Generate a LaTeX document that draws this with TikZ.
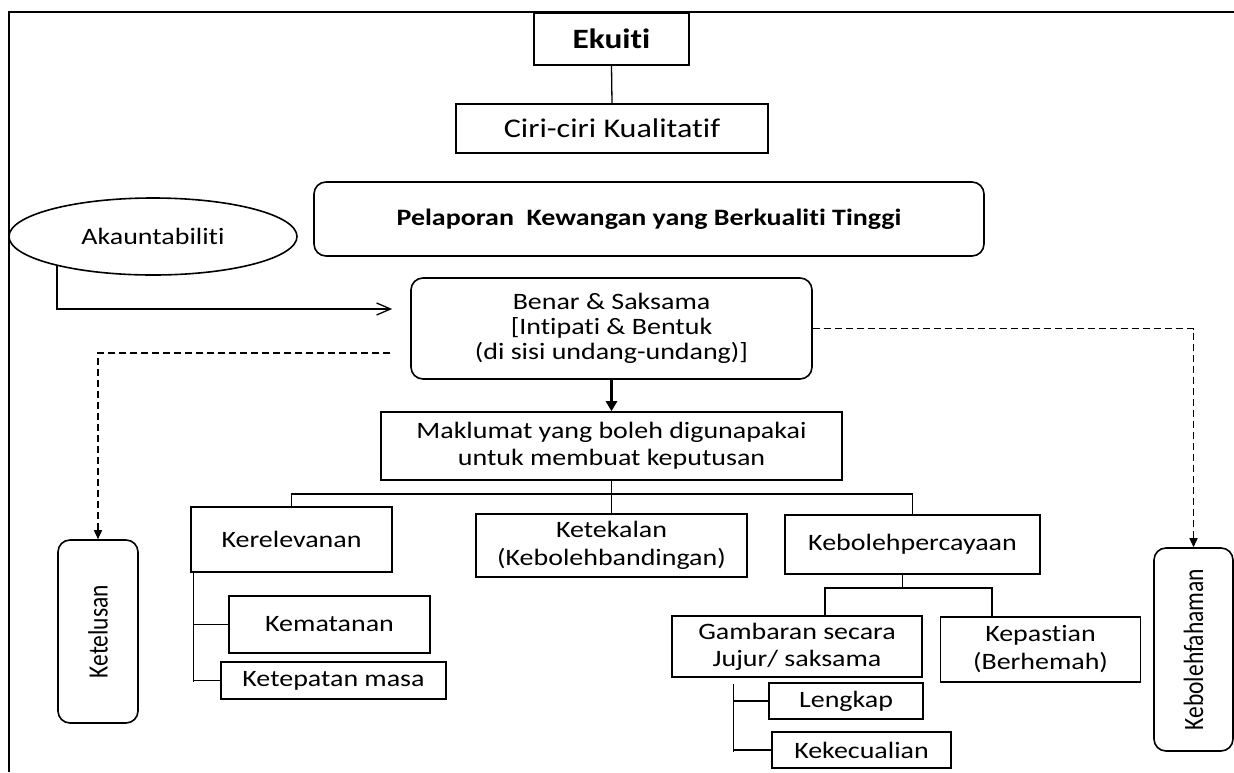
\documentclass[tikz,border=0pt]{standalone}
\usepackage{fontspec}
\usepackage{graphicx}
\setmainfont{Carlito}[FakeStretch=1.19, Ligatures={NoCommon}]
\newfontfamily\uprightfont{Carlito}[Ligatures={NoCommon}]
\usetikzlibrary{arrows.meta,shapes.geometric}
\begin{document}
\begin{tikzpicture}[x=1pt,y=-1pt,
  box/.style={draw, line width=1.6pt, inner sep=0pt, align=center,
    font=\fontsize{23.5}{27}\selectfont},
  rbox/.style={box, rounded corners=12pt},
  wh/.style 2 args={minimum width=#1pt, minimum height=#2pt},
  link/.style={line width=1.3pt},
  dashlink/.style={line width=1.5pt, dash pattern=on 7pt off 4pt,
    -{Triangle[length=9pt,width=8pt]}}]
\useasboundingbox (0,0) rectangle (1234,772);

% outer frame
\draw[line width=1.4pt] (9,772) -- (9,12) -- (1234,12);

% top of the hierarchy
\node[box, wh={155}{52}, font=\fontsize{28}{32}\selectfont\bfseries] (ekuiti) at (611.5,39) {Ekuiti};
\node[box, wh={312}{49}, font=\fontsize{27}{31}\selectfont] (ciri) at (612,128.5) {Ciri-ciri Kualitatif};
\node[rbox, wh={670}{74}, font=\fontsize{23.5}{27}\selectfont\bfseries] (pelaporan) at (649,219) {Pelaporan\ \ Kewangan yang Berkualiti Tinggi};
\node[box, ellipse, wh={288}{77}] (akaun) at (153,236.5) {Akauntabiliti};
\node[rbox, wh={401}{101}, font=\fontsize{23.5}{25}\selectfont] (benar) at (611.5,328.5) {Benar \& Saksama\\ {[}Intipati \& Bentuk\\ (di sisi undang-undang)]};
\node[box, wh={461}{68}] (maklumat) at (611.5,446) {Maklumat yang boleh digunapakai\\ untuk membuat keputusan};

% qualities
\node[box, wh={201}{65}] (kerel) at (291.5,539.5) {Kerelevanan};
\node[box, wh={271}{63}, font=\fontsize{23.5}{28}\selectfont] (ketek) at (611.5,545.5) {Ketekalan\\ (Kebolehbandingan)};
\node[box, wh={255}{59}] (kebper) at (912.5,544.5) {Kebolehpercayaan};
\node[box, wh={201}{57}] (kemat) at (329.5,624.5) {Kematanan};
\node[box, wh={225}{37}] (ketep) at (333.5,680.5) {Ketepatan masa};
\node[box, wh={250}{61}] (gamb) at (797,646.5) {Gambaran secara\\ Jujur/ saksama};
\node[box, wh={200}{65}, font=\fontsize{23.5}{28}\selectfont] (kepas) at (1040.5,649.5) {Kepastian\\ (Berhemah)};
\node[box, wh={154}{36}] (lengk) at (846,701) {Lengkap};
\node[box, wh={179}{36}] (kekec) at (861.5,750) {Kekecualian};

% side boxes with vertical labels
\node[rbox, wh={80}{183}] (ketel) at (98,631.5) {\rotatebox{90}{\scalebox{1}[1.19]{\uprightfont Ketelusan}}};
\node[rbox, wh={79}{203}] (kebfah) at (1193.5,649.5) {\rotatebox{90}{\scalebox{1}[1.19]{\uprightfont Kebolehfahaman}}};

% connectors
\draw[link] (ekuiti.south) -- (ciri.north);
\draw[link, -{Straight Barb[length=14pt,width=12pt,line width=1.3pt]}, shorten >=18pt]
  (akaun.197.5) |- ([yshift=19.5pt]benar.west);
\draw[dashlink] ([xshift=-20pt,yshift=-24.5pt]benar.west) -| (ketel.north);
\draw[dashlink] (benar.east) -| (kebfah.north);
\draw[line width=3pt, -{Triangle[length=10pt,width=11pt]}] (benar.south) -- (maklumat.north);

\coordinate (bus1) at (611.5,494);
\draw[link] (maklumat.south) -- (ketek.north);
\draw[link] (kerel.north) |- (bus1) -| (kebper.north);

\coordinate (kspine) at ([xshift=3.5pt]kerel.south west);
\draw[link] (kspine) -- (kspine |- 0,682);
\draw[link] (kspine |- kemat.west) -- (kemat.west);
\draw[link] (kspine |- ketep.west) -- (ketep.west);

\coordinate (bus2) at (902.5,588);
\draw[link] ([xshift=-10pt]kebper.south) -- (bus2);
\draw[link] ([xshift=28pt]gamb.north) |- (bus2) -| ([xshift=-48.5pt]kepas.north);

\coordinate (gspine) at ([xshift=-63.6pt,yshift=-6pt]gamb.south);
\draw[link] (gspine) -- (gspine |- 0,752);
\draw[link] (gspine |- lengk.west) -- (lengk.west);
\draw[link] (gspine |- kekec.west) -- (kekec.west);
\end{tikzpicture}
\end{document}
